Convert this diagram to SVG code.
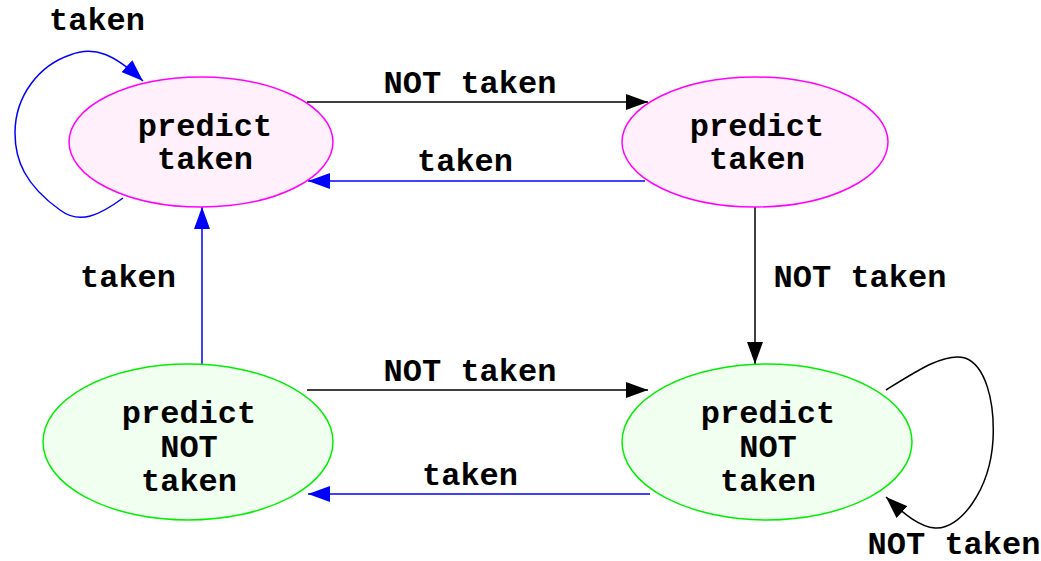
<svg xmlns="http://www.w3.org/2000/svg" width="1041" height="561" viewBox="0 0 1041 561">
  <style>
    text { font-family: "Liberation Mono", "Courier New", monospace; font-weight: bold; font-size: 32px; fill: #000; text-anchor: middle; }
    .taken-state { fill: #fff0fc; stroke: #ff00ff; stroke-width: 1.5; }
    .not-state { fill: #f0fff0; stroke: #00ee00; stroke-width: 1.5; }
    .edge-black { fill: none; stroke: #000; stroke-width: 1.5; }
    .edge-blue { fill: none; stroke: #0000ff; stroke-width: 1.5; }
  </style>
  <defs>
    <marker id="arrow-black" viewBox="0 0 22 16" refX="22" refY="8" markerWidth="22" markerHeight="16" markerUnits="userSpaceOnUse" orient="auto">
      <path d="M0,0 L22,8 L0,16 Z" fill="#000"/>
    </marker>
    <marker id="arrow-blue" viewBox="0 0 22 16" refX="22" refY="8" markerWidth="22" markerHeight="16" markerUnits="userSpaceOnUse" orient="auto">
      <path d="M0,0 L22,8 L0,16 Z" fill="#0000ff"/>
    </marker>
  </defs>

  <g id="connectors">
    <!-- strongly taken self loop -->
    <path class="edge-blue" marker-end="url(#arrow-blue)" d="M123,198 C 100,215 80,225 60,210 C 25,185 15,160 15,133 C 15,95 40,65 70,55 C 95,45 115,55 143,81"/>
    <text x="97" y="30">taken</text>

    <!-- top row -->
    <path class="edge-black" marker-end="url(#arrow-black)" d="M307,102 L648,102"/>
    <text x="470" y="93">NOT taken</text>
    <path class="edge-blue" marker-end="url(#arrow-blue)" d="M645,181 L308,181"/>
    <text x="465" y="171">taken</text>

    <!-- verticals -->
    <path class="edge-black" marker-end="url(#arrow-black)" d="M755,207 L755,364"/>
    <text x="860" y="287">NOT taken</text>
    <path class="edge-blue" marker-end="url(#arrow-blue)" d="M202,364 L202,207"/>
    <text x="128" y="287">taken</text>

    <!-- bottom row -->
    <path class="edge-black" marker-end="url(#arrow-black)" d="M307,390 L648,390"/>
    <text x="470" y="381">NOT taken</text>
    <path class="edge-blue" marker-end="url(#arrow-blue)" d="M650,494 L308,494"/>
    <text x="470" y="485">taken</text>

    <!-- strongly not-taken self loop -->
    <path class="edge-black" marker-end="url(#arrow-black)" d="M886,390 C 915,372 945,352 965,358 C 985,365 995,400 993,440 C 990,490 960,530 935,528 C 920,527 905,515 886,497"/>
    <text x="954" y="554">NOT taken</text>
  </g>

  <g id="node-strong-taken">
    <ellipse class="taken-state" cx="201" cy="142" rx="132" ry="65"/>
    <text x="205" y="136">predict</text>
    <text x="205" y="169">taken</text>
  </g>

  <g id="node-weak-taken">
    <ellipse class="taken-state" cx="755" cy="142" rx="133" ry="65"/>
    <text x="757" y="136">predict</text>
    <text x="757" y="169">taken</text>
  </g>

  <g id="node-weak-not-taken">
    <ellipse class="not-state" cx="188" cy="442" rx="145" ry="78"/>
    <text x="189" y="423">predict</text>
    <text x="189" y="457">NOT</text>
    <text x="189" y="491">taken</text>
  </g>

  <g id="node-strong-not-taken">
    <ellipse class="not-state" cx="767" cy="442" rx="145" ry="78"/>
    <text x="768" y="423">predict</text>
    <text x="768" y="457">NOT</text>
    <text x="768" y="491">taken</text>
  </g>
</svg>
